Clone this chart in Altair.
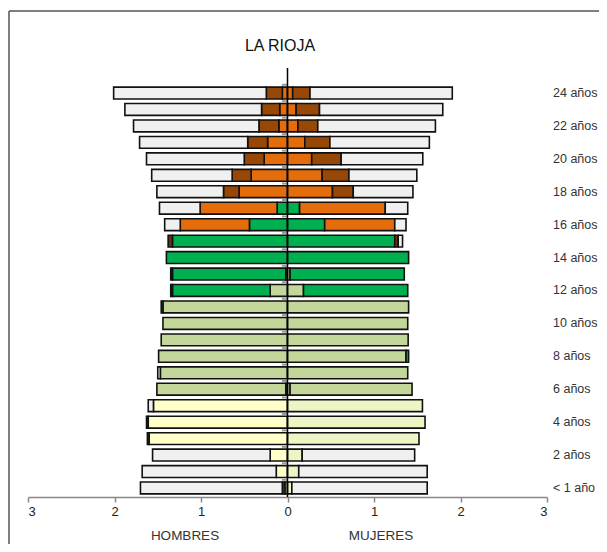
import altair as alt
import pandas as pd

ages = list(range(25))
label_ages = [0, 2, 4, 6, 8, 10, 12, 14, 16, 18, 20, 22, 24]
label_texts = ["< 1 año", "2 años", "4 años", "6 años", "8 años", "10 años", "12 años",
               "14 años", "16 años", "18 años", "20 años", "22 años", "24 años"]

categories = ["inf", "prim", "eso", "post", "univ", "otros", "noesc"]

# HOMBRES (left), values in thousands, ages 0..24
h_inf   = [0.03, 0.13, 0.20, 1.60, 1.61, 1.55, 0.02, 0, 0, 0, 0, 0, 0, 0, 0, 0, 0, 0, 0, 0, 0, 0, 0, 0, 0]
h_prim  = [0, 0, 0, 0, 0, 0, 1.49, 1.47, 1.49, 1.46, 1.44, 1.44, 0.20, 0.02, 0, 0, 0, 0, 0, 0, 0, 0, 0, 0, 0]
h_eso   = [0, 0, 0, 0, 0, 0, 0, 0, 0, 0, 0, 0.02, 1.13, 1.31, 1.40, 1.33, 0.44, 0.12, 0, 0, 0, 0, 0, 0, 0]
h_post  = [0, 0, 0, 0, 0, 0, 0, 0, 0, 0, 0, 0, 0, 0, 0, 0, 0.80, 0.89, 0.56, 0.42, 0.27, 0.23, 0.10, 0.09, 0.06]
h_univ  = [0, 0, 0, 0, 0, 0, 0, 0, 0, 0, 0, 0, 0, 0, 0, 0, 0, 0, 0.18, 0.22, 0.23, 0.23, 0.23, 0.21, 0.185]
h_otros = [0.03, 0, 0, 0.02, 0.02, 0, 0, 0, 0, 0, 0, 0, 0.02, 0.02, 0, 0.05, 0, 0, 0, 0, 0, 0, 0, 0, 0]
h_noesc = [1.64, 1.55, 1.36, 0, 0, 0.06, 0, 0.03, 0, 0, 0, 0, 0, 0, 0, 0, 0.18, 0.47, 0.77, 0.93, 1.13, 1.25, 1.45, 1.58, 1.765]

# MUJERES (right)
m_inf   = [0.05, 0.13, 0.17, 1.52, 1.59, 1.56, 0.03, 0, 0, 0, 0, 0, 0, 0, 0, 0, 0, 0, 0, 0, 0, 0, 0, 0, 0]
m_prim  = [0, 0, 0, 0, 0, 0, 1.41, 1.39, 1.37, 1.395, 1.39, 1.40, 0.185, 0.03, 0, 0, 0, 0, 0, 0, 0, 0, 0, 0, 0]
m_eso   = [0, 0, 0, 0, 0, 0, 0, 0, 0.03, 0, 0, 0, 1.205, 1.32, 1.40, 1.24, 0.43, 0.14, 0, 0, 0, 0, 0, 0, 0]
m_post  = [0, 0, 0, 0, 0, 0, 0, 0, 0, 0, 0, 0, 0, 0, 0, 0, 0.81, 0.99, 0.52, 0.40, 0.28, 0.20, 0.12, 0.10, 0.06]
m_univ  = [0, 0, 0, 0, 0, 0, 0, 0, 0, 0, 0, 0, 0, 0, 0, 0, 0, 0, 0.24, 0.31, 0.34, 0.29, 0.23, 0.27, 0.20]
m_otros = [0, 0, 0, 0, 0, 0, 0, 0, 0, 0, 0, 0, 0, 0, 0, 0.04, 0, 0, 0, 0, 0, 0, 0, 0, 0]
m_noesc = [1.565, 1.485, 1.30, 0, 0, 0, 0, 0, 0, 0, 0, 0, 0, 0, 0, 0.05, 0.13, 0.26, 0.69, 0.785, 0.944, 1.15, 1.36, 1.425, 1.645]

sides = [
    ("H", -1, [h_inf, h_prim, h_eso, h_post, h_univ, h_otros, h_noesc]),
    ("M", 1, [m_inf, m_prim, m_eso, m_post, m_univ, m_otros, m_noesc]),
]

rows = []
for side, sign, arrays in sides:
    for i, age in enumerate(ages):
        cum = 0.0
        for cat, arr in zip(categories, arrays):
            v = arr[i]
            if v > 0:
                key = cat + "_" + side if cat == "inf" else cat
                rows.append({"age": age, "cat": key, "x0": sign * cum, "x1": sign * (cum + v)})
                cum += v
bars = pd.DataFrame(rows)

color_domain = ["inf_H", "inf_M", "prim", "eso", "post", "univ", "otros", "noesc"]
color_range = ["#ffffc8", "#eff4c4", "#c4d79b", "#00b050", "#e46c0a", "#984806", "#6b3008", "#f0f0f0"]

FONT = "Liberation Sans"
xscale = alt.Scale(domain=[-3, 3], nice=False, zero=False)
yscale = alt.Scale(domain=[-0.547, 25.519], nice=False, zero=False)
xaxis = alt.Axis(
    values=[-3, -2, -1, 0, 1, 2, 3], labelExpr="format(abs(datum.value), 'd')",
    title=None, grid=False, domainColor="#888888", tickColor="#888888", domainWidth=1.5,
    tickWidth=1.5, tickSize=5, labelFontSize=13, labelColor="#222222", labelFont=FONT,
    labelPadding=3)

bar_layer = alt.Chart(bars).mark_rect(stroke="#111111", strokeWidth=1.6).transform_calculate(
    ya="datum.age - 0.36", yb="datum.age + 0.36"
).encode(
    x=alt.X("x0:Q", scale=xscale, axis=xaxis),
    x2="x1:Q",
    y=alt.Y("ya:Q", scale=yscale, axis=None),
    y2="yb:Q",
    color=alt.Color("cat:N", scale=alt.Scale(domain=color_domain, range=color_range), legend=None),
)

center_df = pd.DataFrame({"x0": [0]})
center = alt.Chart(center_df).mark_rule(color="#000000", strokeWidth=1.5).encode(
    x=alt.X("x0:Q", scale=xscale, axis=xaxis)
)

bounds = pd.DataFrame({"b": [a + 0.5 for a in ages], "x0": [-0.065] * 25, "x1": [0] * 25})
row_ticks = alt.Chart(bounds).mark_rule(color="#999999", strokeWidth=2).encode(
    x=alt.X("x0:Q", scale=xscale, axis=xaxis), x2="x1:Q",
    y=alt.Y("b:Q", scale=yscale, axis=None),
)

lab_df = pd.DataFrame({"age": label_ages, "txt": label_texts})
age_labels = alt.Chart(lab_df).mark_text(
    align="left", baseline="middle", font=FONT, fontSize=12.5, color="#333333"
).encode(
    x=alt.value(525),
    y=alt.Y("age:Q", scale=yscale, axis=None),
    text="txt:N",
)

sex_df = pd.DataFrame({"txt": ["HOMBRES", "MUJERES"], "px": [157, 353]})
sex_labels = alt.Chart(sex_df).mark_text(
    align="center", baseline="middle", font=FONT, fontSize=13.5, color="#333333"
).encode(
    x=alt.X("px:Q", scale=None, axis=None),
    y=alt.value(468),
    text="txt:N",
)

title_df = pd.DataFrame({"txt": ["LA RIOJA"]})
title = alt.Chart(title_df).mark_text(
    align="center", baseline="middle", font=FONT, fontSize=16, color="#111111"
).encode(
    x=alt.value(252), y=alt.value(-22), text="txt:N"
)

frame_df = pd.DataFrame({"k": [0]})
frame_left = alt.Chart(frame_df).mark_rule(color="#555555", strokeWidth=1.5).encode(
    x=alt.value(-19), y=alt.value(-57), y2=alt.value(620)
)
frame_top = alt.Chart(frame_df).mark_rule(color="#555555", strokeWidth=1.5).encode(
    x=alt.value(-19), x2=alt.value(700), y=alt.value(-57)
)

chart = alt.layer(
    frame_left, frame_top, bar_layer, row_ticks, center, age_labels, sex_labels, title
).properties(
    width=519, height=429,
    padding={"left": 20, "top": 60, "right": 52, "bottom": 47},
    autosize=alt.AutoSizeParams(type="none"),
).configure_view(strokeWidth=0)

chart.save("out.html", embed_options={"renderer": "svg", "actions": False})
